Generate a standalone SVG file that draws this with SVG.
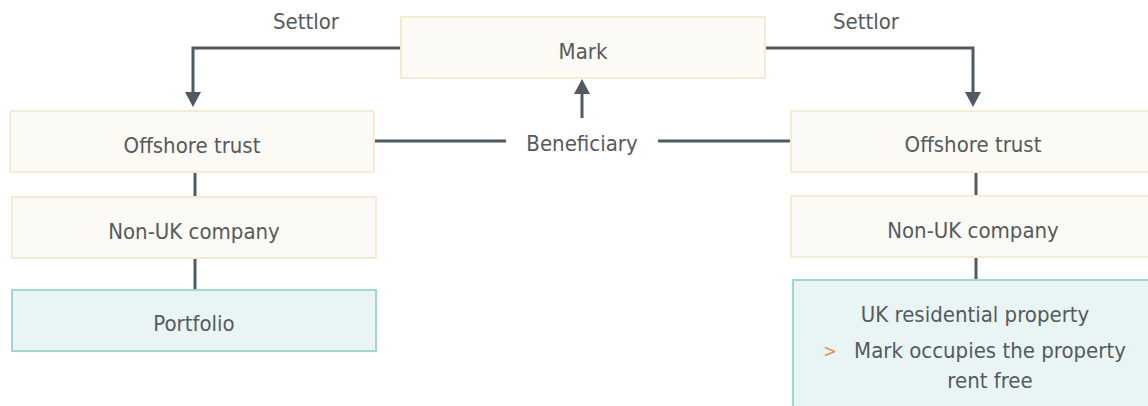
<svg xmlns="http://www.w3.org/2000/svg" width="1148" height="406" viewBox="0 0 1148 406">
<defs>
<style>
.bx{fill:#FBFAF4;stroke:#F3ECD3;stroke-width:2}
.tl{fill:#E9F5F5;stroke:#A0D8D4;stroke-width:2}
.t{font-family:"DejaVu Sans Condensed","DejaVu Sans",sans-serif;font-stretch:condensed;font-size:22px;fill:#555A5E;text-anchor:middle}
.c{stroke:#505A63;stroke-width:3;fill:none}
.ah{fill:#505A63}
</style>
</defs>
<rect width="1148" height="406" fill="#FFFFFF"/>
<g id="connectors">
<polyline class="c" points="401,48 193,48 193,94"/>
<polygon class="ah" points="185,92 201,92 193,107"/>
<polyline class="c" points="765,48 973,48 973,94"/>
<polygon class="ah" points="965,92 981,92 973,107"/>
<line class="c" x1="374" y1="141" x2="506" y2="141"/>
<line class="c" x1="658" y1="141" x2="791" y2="141"/>
<line class="c" x1="582" y1="118" x2="582" y2="92"/>
<polygon class="ah" points="574,94 590,94 582,79"/>
<line class="c" x1="195" y1="172" x2="195" y2="197"/>
<line class="c" x1="195" y1="258" x2="195" y2="290"/>
<line class="c" x1="976" y1="172" x2="976" y2="196"/>
<line class="c" x1="976" y1="257" x2="976" y2="280"/>
<text class="t" x="306" y="29">Settlor</text>
<text class="t" x="866" y="29">Settlor</text>
<text class="t" x="582" y="151">Beneficiary</text>
</g>
<g id="mark">
<rect class="bx" x="401" y="17" width="364" height="61"/>
<text class="t" x="583" y="59">Mark</text>
</g>
<g id="trust-left">
<rect class="bx" x="10" y="111" width="364" height="61"/>
<text class="t" x="192" y="153">Offshore trust</text>
</g>
<g id="company-left">
<rect class="bx" x="12" y="197" width="364" height="61"/>
<text class="t" x="194" y="239">Non-UK company</text>
</g>
<g id="portfolio">
<rect class="tl" x="12" y="290" width="364" height="61"/>
<text class="t" x="194" y="331">Portfolio</text>
</g>
<g id="trust-right">
<rect class="bx" x="791" y="111" width="364" height="61"/>
<text class="t" x="973" y="152">Offshore trust</text>
</g>
<g id="company-right">
<rect class="bx" x="791" y="196" width="364" height="61"/>
<text class="t" x="973" y="238">Non-UK company</text>
</g>
<g id="uk-property">
<rect class="tl" x="793" y="280" width="364" height="140"/>
<text class="t" x="975" y="322">UK residential property</text>
<text x="830" y="357" style="font-family:'DejaVu Sans Condensed','DejaVu Sans',sans-serif;font-size:18px;fill:#F08A3C;text-anchor:middle">&gt;</text>
<text class="t" x="990" y="358">Mark occupies the property</text>
<text class="t" x="990" y="388">rent free</text>
</g>
</svg>
